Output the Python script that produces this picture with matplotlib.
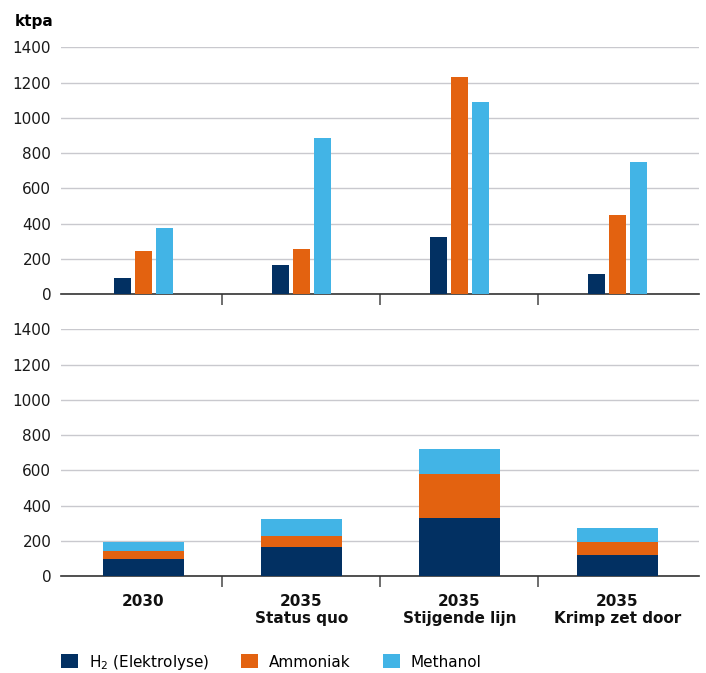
import numpy as np
import matplotlib
matplotlib.use("Agg")
import matplotlib.pyplot as plt
from matplotlib.patches import Patch

plt.rcParams['font.family'] = ['DejaVu Sans']

# categories and series
scenarios = ["2030", "2035\nStatus quo", "2035\nStijgende lijn", "2035\nKrimp zet door"]
series = ["H$_2$ (Elektrolyse)", "Ammoniak", "Methanol"]
colors = ["#023062", "#E36210", "#42B4E6"]

# top panel: grouped values (ktpa)
top_h2 = [92, 166, 325, 115]
top_ammoniak = [245, 257, 1232, 449]
top_methanol = [376, 886, 1090, 750]

# bottom panel: stacked values (ktpa)
bot_h2 = [98, 166, 331, 121]
bot_ammoniak = [45, 62, 251, 75]
bot_methanol = [52, 97, 140, 78]

yticks = [0, 200, 400, 600, 800, 1000, 1200, 1400]

fig = plt.figure(figsize=(7.06, 6.73), dpi=100)
ax1 = fig.add_axes([0.0864, 0.5627, 0.9037, 0.367])
ax2 = fig.add_axes([0.0864, 0.1437, 0.9037, 0.367])

x = np.arange(len(scenarios))


def style_axis(ax):
    ax.set_xlim(-0.522, 3.516)
    ax.set_ylim(0, 1400)
    ax.set_yticks(yticks)
    ax.grid(axis='y', color='#c9c9ce', linewidth=1.0)
    ax.set_axisbelow(True)
    for side in ['top', 'right', 'left']:
        ax.spines[side].set_visible(False)
    ax.spines['bottom'].set_color('#333333')
    ax.spines['bottom'].set_linewidth(1.2)
    ax.tick_params(axis='y', length=0, pad=7, labelsize=11, labelcolor='#1a1a1a')
    ax.set_xticks([0.5, 1.5, 2.5])
    ax.tick_params(axis='x', length=8, width=1.2, color='#555555', labelbottom=False)


style_axis(ax1)
style_axis(ax2)

# grouped bars
w = 0.108
step = 0.133
top_vals = [top_h2, top_ammoniak, top_methanol]
for i, vals in enumerate(top_vals):
    ax1.bar(x + (i - 1) * step, vals, width=w, color=colors[i], zorder=3)

# stacked bars
bw = 0.513
bottom = np.zeros(len(scenarios))
for i, vals in enumerate([bot_h2, bot_ammoniak, bot_methanol]):
    ax2.bar(x, vals, width=bw, bottom=bottom, color=colors[i], zorder=3)
    bottom += np.array(vals)

# category labels
for xi, lab in zip(x, scenarios):
    ax2.annotate(lab, xy=(xi, 0), xycoords=('data', 'axes fraction'),
                 xytext=(0, -13), textcoords='offset points',
                 ha='center', va='top', fontsize=11, fontweight='bold',
                 linespacing=1.15, color='#111111')

fig.text(0.021, 0.968, "ktpa", fontsize=11, fontweight='bold', va='center')

handles = [Patch(facecolor=c) for c in colors]
fig.legend(handles, series, loc='center left', bbox_to_anchor=(0.0864, 0.0163),
           ncol=3, frameon=False, fontsize=11, handlelength=1.1,
           handleheight=1.05, columnspacing=2.1, handletextpad=0.72,
           borderpad=0, borderaxespad=0)

fig.savefig("out.png", dpi=100)
